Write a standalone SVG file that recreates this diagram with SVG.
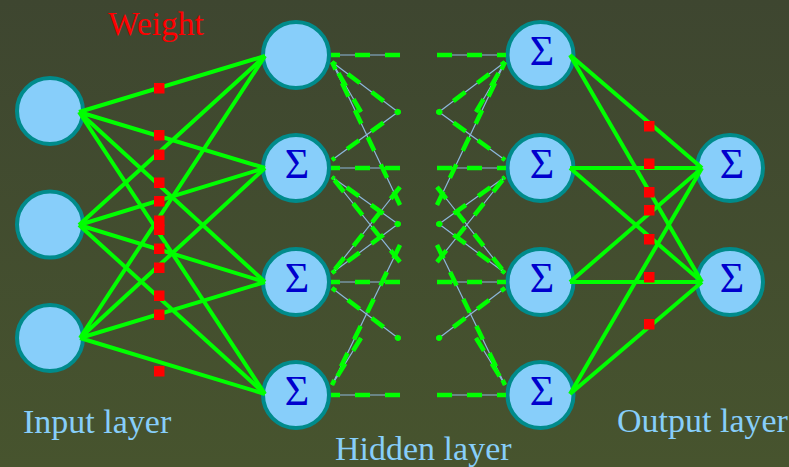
<svg xmlns="http://www.w3.org/2000/svg" width="789" height="467" viewBox="0 0 789 467">
<style>
.node circle{fill:#87cefa;stroke:#008b8b;stroke-width:4}
.sig{font-family:"Liberation Serif","Times New Roman",serif;font-size:42px;fill:#0000cd;text-anchor:middle}
.w{stroke:#00ff00;stroke-width:4;fill:none}
.thin{stroke:#8db8dc;stroke-width:1.2;fill:none}
.dash{stroke:#00ff00;stroke-width:4.5;stroke-dasharray:15 15;fill:none}
.sq{fill:#ff0000}
.lbl{font-family:"Liberation Serif","Times New Roman",serif;font-size:34px;fill:#87cefa}
.wt{font-family:"Liberation Serif","Times New Roman",serif;font-size:33.5px;fill:#ff0000}
</style>
<defs>
<linearGradient id="bg" x1="0" y1="0" x2="0" y2="1">
<stop offset="0" stop-color="#3e4630"/>
<stop offset="1" stop-color="#47542e"/>
</linearGradient>
<g id="midL">
<path d="M400 55H331"/>
<path d="M400 168H331"/>
<path d="M400 282H331"/>
<path d="M400 395H331"/>
<path d="M398 112L332 62" stroke-dashoffset="12"/>
<path d="M361 112L332 62"/>
<path d="M400 205L332 62"/>
<path d="M398 112L332 160" stroke-dashoffset="12"/>
<path d="M398 224L332 177" stroke-dashoffset="12"/>
<path d="M400 262L332 177"/>
<path d="M398 224L332 273" stroke-dashoffset="12"/>
<path d="M400 187L332 273"/>
<path d="M398 338L332 288" stroke-dashoffset="12"/>
<path d="M361 338L332 385"/>
<path d="M400 245L332 385"/>
<circle cx="398" cy="112" r="2.8" fill="#00ff00" stroke="none"/>
<circle cx="398" cy="224" r="2.8" fill="#00ff00" stroke="none"/>
<circle cx="398" cy="338" r="2.8" fill="#00ff00" stroke="none"/>
</g>
</defs>
<rect width="789" height="467" fill="url(#bg)"/>

<g id="in1" class="node"><circle cx="50" cy="111" r="33"/></g>
<g id="in2" class="node"><circle cx="50" cy="224.5" r="33"/></g>
<g id="in3" class="node"><circle cx="50" cy="338" r="33"/></g>

<g id="h1a" class="node"><circle cx="296" cy="55" r="33"/></g>
<g id="h2a" class="node"><circle cx="296" cy="168" r="33"/><text class="sig" x="297" y="178">Σ</text></g>
<g id="h3a" class="node"><circle cx="296" cy="282" r="33"/><text class="sig" x="297" y="292">Σ</text></g>
<g id="h4a" class="node"><circle cx="296" cy="395" r="33"/><text class="sig" x="297" y="405">Σ</text></g>

<g id="h1b" class="node"><circle cx="540.5" cy="55" r="33"/><text class="sig" x="542" y="65">Σ</text></g>
<g id="h2b" class="node"><circle cx="540.5" cy="168" r="33"/><text class="sig" x="542" y="178">Σ</text></g>
<g id="h3b" class="node"><circle cx="540.5" cy="282" r="33"/><text class="sig" x="542" y="292">Σ</text></g>
<g id="h4b" class="node"><circle cx="540.5" cy="395" r="33"/><text class="sig" x="542" y="405">Σ</text></g>

<g id="out1" class="node"><circle cx="730" cy="168" r="33"/><text class="sig" x="732" y="178">Σ</text></g>
<g id="out2" class="node"><circle cx="730" cy="282" r="33"/><text class="sig" x="732" y="292">Σ</text></g>

<g id="connectors">
<g class="w">
<path d="M79 112L265 56M79 112L265 168M79 112L265 282M79 112L265 394"/>
<path d="M79 225L265 56M79 225L265 168M79 225L265 282M79 225L265 394"/>
<path d="M80 338L265 56M80 338L265 168M80 338L265 282M80 338L265 394"/>
<path d="M570 55L702 168M570 55L702 282M570 168L702 168M570 168L702 282"/>
<path d="M570 282L702 168M570 282L702 282M570 394L702 168M570 394L702 282"/>
</g>
<use href="#midL" class="thin"/>
<use href="#midL" class="dash"/>
<use href="#midL" class="thin" transform="matrix(-1 0 0 1 837 0)"/>
<use href="#midL" class="dash" transform="matrix(-1 0 0 1 837 0)"/>
</g>

<g id="weights" class="sq">
<rect x="154" y="83" width="10.5" height="10.5"/>
<rect x="154" y="130" width="10.5" height="10.5"/>
<rect x="154" y="149.5" width="10.5" height="10.5"/>
<rect x="154" y="177.5" width="10.5" height="10.5"/>
<rect x="154" y="196" width="10.5" height="10.5"/>
<rect x="154" y="215.5" width="10.5" height="10.5"/>
<rect x="154" y="224.5" width="10.5" height="10.5"/>
<rect x="154" y="243.5" width="10.5" height="10.5"/>
<rect x="154" y="262.5" width="10.5" height="10.5"/>
<rect x="154" y="290.5" width="10.5" height="10.5"/>
<rect x="154" y="309.5" width="10.5" height="10.5"/>
<rect x="154" y="366" width="10.5" height="10.5"/>
<rect x="644" y="121" width="10.5" height="10.5"/>
<rect x="644" y="158.5" width="10.5" height="10.5"/>
<rect x="644" y="187" width="10.5" height="10.5"/>
<rect x="644" y="205" width="10.5" height="10.5"/>
<rect x="644" y="234" width="10.5" height="10.5"/>
<rect x="644" y="272" width="10.5" height="10.5"/>
<rect x="644" y="319" width="10.5" height="10.5"/>
</g>

<text class="wt" x="108" y="35">Weight</text>
<text class="lbl" x="23" y="433">Input layer</text>
<text class="lbl" x="335" y="460">Hidden layer</text>
<text class="lbl" x="617" y="432">Output layer</text>
</svg>
